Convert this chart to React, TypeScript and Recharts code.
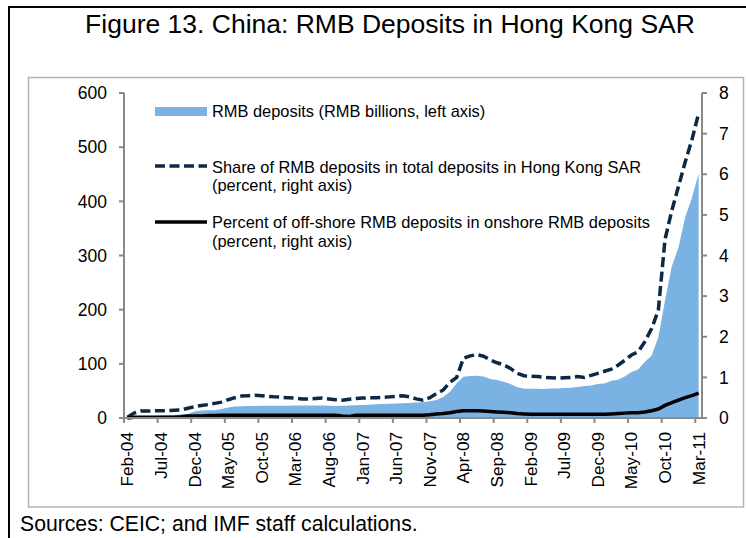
import React from 'react';
import {
  ComposedChart,
  Area,
  Line,
  XAxis,
  YAxis,
  Legend,
} from 'recharts';

const months = [
  'Feb-04', 'Mar-04', 'Apr-04', 'May-04', 'Jun-04', 'Jul-04', 'Aug-04', 'Sep-04', 'Oct-04', 'Nov-04', 'Dec-04',
  'Jan-05', 'Feb-05', 'Mar-05', 'Apr-05', 'May-05', 'Jun-05', 'Jul-05', 'Aug-05', 'Sep-05', 'Oct-05', 'Nov-05', 'Dec-05',
  'Jan-06', 'Feb-06', 'Mar-06', 'Apr-06', 'May-06', 'Jun-06', 'Jul-06', 'Aug-06', 'Sep-06', 'Oct-06', 'Nov-06', 'Dec-06',
  'Jan-07', 'Feb-07', 'Mar-07', 'Apr-07', 'May-07', 'Jun-07', 'Jul-07', 'Aug-07', 'Sep-07', 'Oct-07', 'Nov-07', 'Dec-07',
  'Jan-08', 'Feb-08', 'Mar-08', 'Apr-08', 'May-08', 'Jun-08', 'Jul-08', 'Aug-08', 'Sep-08', 'Oct-08', 'Nov-08', 'Dec-08',
  'Jan-09', 'Feb-09', 'Mar-09', 'Apr-09', 'May-09', 'Jun-09', 'Jul-09', 'Aug-09', 'Sep-09', 'Oct-09', 'Nov-09', 'Dec-09',
  'Jan-10', 'Feb-10', 'Mar-10', 'Apr-10', 'May-10', 'Jun-10', 'Jul-10', 'Aug-10', 'Sep-10', 'Oct-10', 'Nov-10', 'Dec-10',
  'Jan-11', 'Feb-11', 'Mar-11',
];

// RMB deposits, RMB billions (left axis)
const rmbDeposits = [
  0.9, 1.5, 2.0, 2.8, 3.9, 4.5, 5.0, 5.5, 6.3, 7.6, 12.1,
  14.0, 14.4, 14.4, 16.5, 19.2, 21.2, 21.9, 22.0, 22.2, 22.6, 22.7, 22.6,
  22.7, 22.7, 22.9, 23.0, 23.2, 23.1, 23.0, 22.4, 22.2, 22.5, 23.2, 23.4,
  23.8, 24.6, 25.4, 26.0, 26.1, 26.6, 27.1, 27.5, 28.4, 29.3, 30.8, 33.4,
  39.0, 48.4, 64.0, 76.0, 77.5, 77.9, 76.5, 72.0, 70.0, 67.0, 63.0, 57.0,
  54.5, 54.0, 53.9, 53.7, 54.4, 54.6, 55.5, 56.0, 57.4, 58.9, 60.0, 62.7,
  63.9, 68.6, 70.7, 76.4, 84.7, 89.7, 103.7, 114.9, 149.3, 217.1, 279.6, 314.9,
  370.6, 406.8, 451.5,
];

// Share of RMB deposits in total deposits in Hong Kong SAR, percent (right axis)
const rmbShare = [
  0.02, 0.12, 0.17, 0.17, 0.18, 0.18, 0.18, 0.19, 0.2, 0.24, 0.28,
  0.31, 0.33, 0.36, 0.39, 0.45, 0.5, 0.54, 0.55, 0.56, 0.55, 0.53, 0.52,
  0.51, 0.5, 0.49, 0.47, 0.47, 0.48, 0.49, 0.47, 0.45, 0.44, 0.46, 0.48,
  0.49, 0.5, 0.5, 0.51, 0.52, 0.53, 0.55, 0.52, 0.47, 0.44, 0.5, 0.6,
  0.69, 0.88, 1.0, 1.47, 1.53, 1.56, 1.52, 1.43, 1.36, 1.31, 1.22, 1.1,
  1.04, 1.03, 1.02, 1.0, 0.99, 0.98, 0.99, 1.0, 1.02, 1.0, 1.05, 1.1,
  1.15, 1.2, 1.3, 1.42, 1.55, 1.63, 1.88, 2.2, 2.65, 4.4, 5.1, 5.7,
  6.3, 6.85, 7.5,
];

// Off-shore RMB deposits as percent of onshore RMB deposits (right axis)
const offshoreRatio = [
  0, 0.02, 0.02, 0.02, 0.02, 0.02, 0.02, 0.02, 0.03, 0.05, 0.05,
  0.05, 0.06, 0.06, 0.07, 0.07, 0.07, 0.07, 0.07, 0.07, 0.07, 0.07, 0.07,
  0.07, 0.07, 0.07, 0.07, 0.07, 0.07, 0.07, 0.07, 0.07, 0.05, 0.04, 0.07,
  0.07, 0.07, 0.07, 0.07, 0.07, 0.07, 0.07, 0.07, 0.07, 0.07, 0.08, 0.1,
  0.11, 0.13, 0.16, 0.18, 0.18, 0.18, 0.17, 0.16, 0.15, 0.14, 0.13, 0.11,
  0.1, 0.09, 0.09, 0.09, 0.09, 0.09, 0.09, 0.09, 0.09, 0.09, 0.09, 0.09,
  0.09, 0.1, 0.11, 0.12, 0.13, 0.13, 0.15, 0.18, 0.22, 0.31, 0.38, 0.44,
  0.5, 0.55, 0.61,
];

const leftTicks = [0, 100, 200, 300, 400, 500, 600];
const rightTicks = [0, 1, 2, 3, 4, 5, 6, 7, 8];
const monthTickIdx = [0, 5, 10, 15, 20, 25, 30, 35, 40, 45, 50, 55, 60, 65, 70, 75, 80, 85];

const NAME_DEPOSITS = 'RMB deposits (RMB billions, left axis)';
const NAME_SHARE = ['Share of RMB deposits in total deposits in Hong Kong SAR', '(percent, right axis)'];
const NAME_OFFSHORE = ['Percent of off-shore RMB deposits in onshore RMB deposits', '(percent, right axis)'];

const FONT = '"Liberation Sans", Arial, Helvetica, sans-serif';
const AREA_BLUE = '#7ab2e3';
const NAVY = '#0b2946';
const AXIS_GRAY = '#898989';

const W = 746;
const H = 538;
const margin = { top: 93, right: 4, bottom: 50, left: 64 };
const LEFT_AXIS_W = 60;
const RIGHT_AXIS_W = 40;
const X_AXIS_H = 70;
const PLOT_W = W - margin.left - margin.right - LEFT_AXIS_W - RIGHT_AXIS_W;
const HALF_STEP = PLOT_W / months.length / 2;

const data = months.map((m, i) => ({
  idx: i,
  month: m,
  deposits: rmbDeposits[i],
  share: rmbShare[i],
  offshore: offshoreRatio[i],
}));

const MonthTick = (props: any) => {
  const { x, y, payload } = props;
  const label = months[payload.value];
  return (
    <g>
      <line
        x1={x - HALF_STEP}
        x2={x - HALF_STEP}
        y1={y - 14}
        y2={y - 9}
        stroke={AXIS_GRAY}
        strokeWidth={2}
      />
      <text
        x={x}
        y={y}
        transform={`rotate(-90 ${x} ${y})`}
        textAnchor="end"
        dominantBaseline="central"
        fontSize={17.2}
        fontFamily={FONT}
        fill="#000"
      >
        {label}
      </text>
    </g>
  );
};

const LegendBox = () => (
  <svg width={560} height={160} style={{ overflow: 'visible' }}>
    <g fontFamily={FONT} fontSize={16.4} fill="#000">
      <rect x={0} y={7} width={52} height={9} fill={AREA_BLUE} />
      <text x={57} y={17.3}>{NAME_DEPOSITS}</text>

      <line x1={0} x2={52} y1={66} y2={66} stroke={NAVY} strokeWidth={3.5} strokeDasharray="10 4.5" />
      <text x={57} y={72.8}>{NAME_SHARE[0]}</text>
      <text x={57} y={91.3}>{NAME_SHARE[1]}</text>

      <line x1={0} x2={52} y1={122} y2={122} stroke="#000" strokeWidth={3.5} />
      <text x={57} y={128.3}>{NAME_OFFSHORE[0]}</text>
      <text x={57} y={146.5}>{NAME_OFFSHORE[1]}</text>
    </g>
  </svg>
);

const App: React.FC = () => {
  return (
    <div
      style={{
        position: 'absolute',
        left: 0,
        top: 0,
        width: W,
        height: H,
        overflow: 'hidden',
        background: '#fff',
        fontFamily: FONT,
      }}
    >
      <svg width={W} height={H} style={{ position: 'absolute', left: 0, top: 0 }}>
        <rect x={9} y={7} width={800} height={600} fill="none" stroke="#000" strokeWidth={2} />
        <rect x={28.5} y={77.5} width={715} height={429.5} fill="none" stroke="#b5b5b5" strokeWidth={1.5} />
        <text x={390} y={33} textAnchor="middle" fontSize={26.5} fontFamily={FONT} fill="#000">
          Figure 13. China: RMB Deposits in Hong Kong SAR
        </text>
        <text x={20} y={531} fontSize={21.2} fontFamily={FONT} fill="#000">
          Sources: CEIC; and IMF staff calculations.
        </text>
      </svg>
      <div style={{ position: 'absolute', left: 0, top: 0 }}>
        <ComposedChart width={W} height={H} data={data} margin={margin}>
          <XAxis
            dataKey="idx"
            type="number"
            domain={[-0.5, months.length - 0.5]}
            ticks={monthTickIdx}
            interval={0}
            height={X_AXIS_H}
            tickSize={5}
            tickMargin={9}
            tickLine={false}
            axisLine={{ stroke: AXIS_GRAY, strokeWidth: 2 }}
            tick={<MonthTick />}
          />
          <YAxis
            yAxisId="left"
            orientation="left"
            width={LEFT_AXIS_W}
            domain={[0, 600]}
            ticks={leftTicks}
            interval={0}
            tickSize={5}
            tickMargin={12}
            axisLine={{ stroke: AXIS_GRAY, strokeWidth: 2 }}
            tickLine={{ stroke: AXIS_GRAY, strokeWidth: 2 }}
            tick={{ fill: '#000', fontSize: 17.5, fontFamily: FONT }}
          />
          <YAxis
            yAxisId="right"
            orientation="right"
            width={RIGHT_AXIS_W}
            domain={[0, 8]}
            ticks={rightTicks}
            interval={0}
            tickSize={5}
            tickMargin={12}
            axisLine={{ stroke: AXIS_GRAY, strokeWidth: 2 }}
            tickLine={{ stroke: AXIS_GRAY, strokeWidth: 2 }}
            tick={{ fill: '#000', fontSize: 17.5, fontFamily: FONT }}
          />
          <Legend
            layout="horizontal"
            verticalAlign="middle"
            align="center"
            wrapperStyle={{ left: 155, top: 100, width: 560, height: 160 }}
            content={<LegendBox />}
          />
          <Area
            yAxisId="left"
            type="linear"
            dataKey="deposits"
            name={NAME_DEPOSITS}
            fill={AREA_BLUE}
            fillOpacity={1}
            stroke="none"
            isAnimationActive={false}
          />
          <Line
            yAxisId="right"
            type="linear"
            dataKey="share"
            name={NAME_SHARE.join(' ')}
            stroke={NAVY}
            strokeWidth={3.5}
            strokeDasharray="10 4.5"
            dot={false}
            activeDot={false}
            isAnimationActive={false}
          />
          <Line
            yAxisId="right"
            type="linear"
            dataKey="offshore"
            name={NAME_OFFSHORE.join(' ')}
            stroke="#000"
            strokeWidth={3.5}
            dot={false}
            activeDot={false}
            isAnimationActive={false}
          />
        </ComposedChart>
      </div>
    </div>
  );
};

export default App;
